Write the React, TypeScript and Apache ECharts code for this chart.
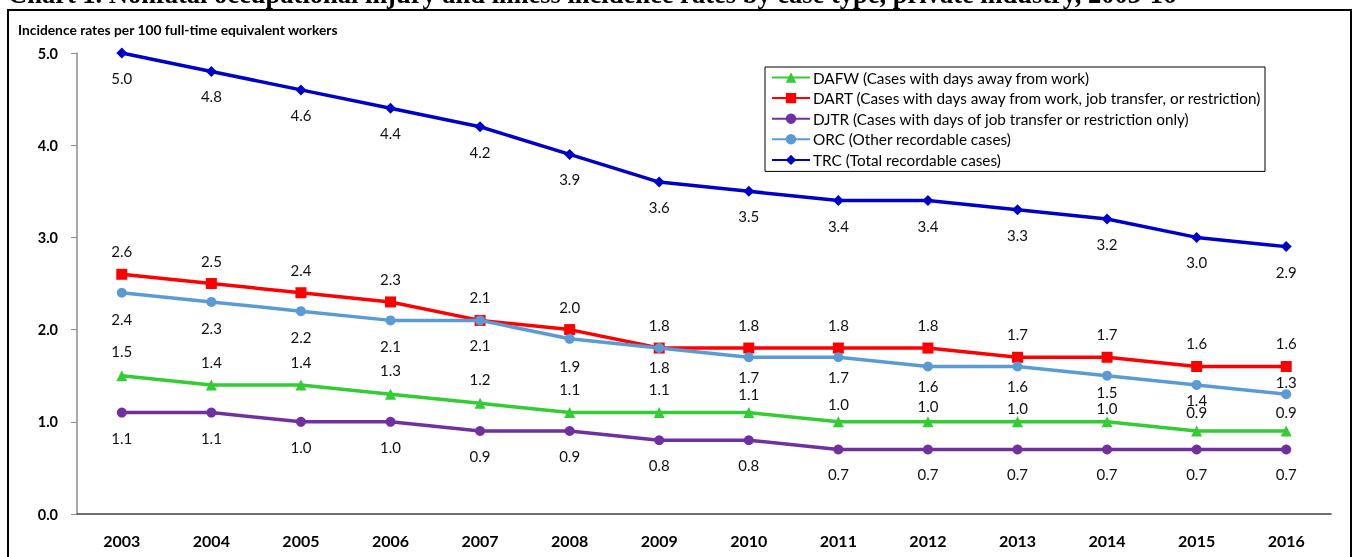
import React, { useEffect, useRef } from "react";
import * as echarts from "echarts";

const years = ["2003","2004","2005","2006","2007","2008","2009","2010","2011","2012","2013","2014","2015","2016"];
const dafw = [1.5,1.4,1.4,1.3,1.2,1.1,1.1,1.1,1.0,1.0,1.0,1.0,0.9,0.9];
const dart = [2.6,2.5,2.4,2.3,2.1,2.0,1.8,1.8,1.8,1.8,1.7,1.7,1.6,1.6];
const djtr = [1.1,1.1,1.0,1.0,0.9,0.9,0.8,0.8,0.7,0.7,0.7,0.7,0.7,0.7];
const orc = [2.4,2.3,2.2,2.1,2.1,1.9,1.8,1.7,1.7,1.6,1.6,1.5,1.4,1.3];
const trc = [5.0,4.8,4.6,4.4,4.2,3.9,3.6,3.5,3.4,3.4,3.3,3.2,3.0,2.9];
const names = [
  "DAFW (Cases with days away from work)",
  "DART (Cases with days away from work, job transfer, or restriction)",
  "DJTR (Cases with days of job transfer or restriction only)",
  "ORC (Other recordable cases)",
  "TRC (Total recordable cases)",
];
const titleText = "Chart 1. Nonfatal occupational injury and illness incidence rates by case type, private industry, 2003-16";
const yTitle = "Incidence rates per 100 full-time equivalent workers";

// label placement (vertical shift of each data label from its point, px) — styling only
const dafwLabelDy = [-25,-23,-23,-24,-24,-24,-24,-19,-18,-16,-14,-14,-19,-19];
const orcLabelDy = [26,26,26,26,25,27,19,20,20,20,20,16,15,-12];

const FONT = "Lato, 'Open Sans', sans-serif";

export default function App() {
  const ref = useRef<HTMLDivElement>(null);
  useEffect(() => {
    document.body.style.margin = "0";
    const chart = echarts.init(ref.current!, null, { renderer: "svg" });
    const mk = (name: string, data: number[], color: string, symbol: string, size: number, dy: number | number[], z: number) => ({
      name,
      type: "line",
      data: data.map((v, i) => ({
        value: v,
        label: { offset: [0, Array.isArray(dy) ? dy[i] : dy] },
      })),
      symbol,
      symbolSize: size,
      z,
      lineStyle: { color, width: 3.5 },
      itemStyle: { color },
      label: {
        show: true,
        position: "inside",
        fontFamily: FONT,
        fontSize: 15,
        color: "#111",
        formatter: (p: any) => Number(p.value).toFixed(1),
      },
    });
    chart.setOption({
      animation: false,
      textStyle: { fontFamily: FONT },
      grid: { left: 77, right: 22, top: 53, bottom: 43 },
      graphic: [
        {
          type: "text",
          x: 8,
          y: -6.5,
          style: {
            text: titleText,
            font: "bold 26.5px 'Liberation Serif', 'Times New Roman', serif",
            fill: "#000",
            verticalAlign: "middle",
          },
        },
        {
          type: "rect",
          shape: { x: 8, y: 10, width: 1343, height: 600 },
          style: { fill: "none", stroke: "#000", lineWidth: 2 },
          silent: true,
        },
        {
          type: "text",
          x: 18,
          y: 22,
          style: {
            text: yTitle,
            font: "bold 13.8px Lato, 'Open Sans', sans-serif",
            fill: "#000",
            verticalAlign: "top",
          },
        },
      ],
      legend: {
        orient: "vertical",
        left: 765,
        top: 67,
        borderColor: "#000",
        borderWidth: 1,
        borderRadius: 0,
        padding: [3, 3, 4, 6],
        itemWidth: 38,
        itemHeight: 13,
        itemGap: 5.6,
        textStyle: { fontFamily: FONT, fontSize: 15.3, color: "#000", padding: [0, 0, 0, -2] },
        data: names,
      },
      xAxis: {
        type: "category",
        data: years,
        boundaryGap: true,
        axisLine: { lineStyle: { color: "#404040", width: 1.5 } },
        axisTick: { show: false },
        axisLabel: { fontFamily: FONT, fontWeight: "bold", fontSize: 16, color: "#000", margin: 18 },
      },
      yAxis: {
        type: "value",
        min: 0,
        max: 5,
        interval: 1,
        splitLine: { show: false },
        axisLine: { show: true, lineStyle: { color: "#8c8c8c", width: 1.5 } },
        axisTick: { show: true, length: 6, lineStyle: { color: "#8c8c8c" } },
        axisLabel: {
          fontFamily: FONT,
          fontWeight: "bold",
          fontSize: 14.5,
          color: "#000",
          margin: 19,
          formatter: (v: number) => v.toFixed(1),
        },
      },
      series: [
        mk(names[0], dafw, "#33CC33", "triangle", 11, dafwLabelDy, 3),
        mk(names[1], dart, "#FF0000", "rect", 11, -23, 4),
        mk(names[2], djtr, "#7030A0", "circle", 10, 25, 3),
        mk(names[3], orc, "#5B9BD5", "circle", 10, orcLabelDy, 5),
        mk(names[4], trc, "#0000CC", "diamond", 11, 25, 6),
      ],
    });
    return () => chart.dispose();
  }, []);
  return <div ref={ref} style={{ position: "fixed", left: 0, top: 0, width: 1353, height: 557 }} />;
}
